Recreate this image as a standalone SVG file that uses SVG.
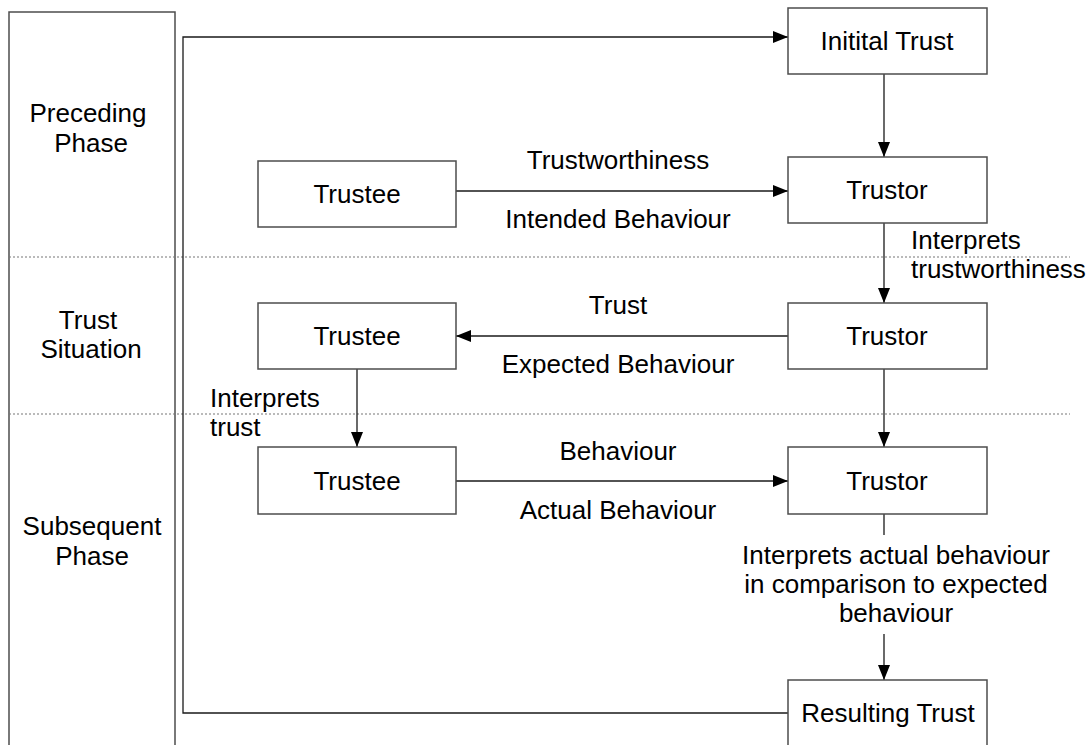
<svg xmlns="http://www.w3.org/2000/svg" width="1091" height="745" viewBox="0 0 1091 745">
  <style>
    .box { fill: #ffffff; stroke: #4d4d4d; stroke-width: 1.5; }
    .lbl { font-family: "Liberation Sans", Arial, sans-serif; font-size: 26px; fill: #000000; }
    .mid { text-anchor: middle; }
    .edge { fill: none; stroke: #1a1a1a; stroke-width: 1.3; }
    .sep { fill: none; stroke: #777777; stroke-width: 1.2; stroke-dasharray: 2 2; }
  </style>
  <defs>
    <marker id="arrow" viewBox="0 0 15 12" refX="15" refY="6" markerWidth="15" markerHeight="12" markerUnits="userSpaceOnUse" orient="auto">
      <path d="M0,0 L15,6 L0,12 Z" fill="#000000"/>
    </marker>
  </defs>
  <rect width="1091" height="745" fill="#ffffff"/>

  <!-- phase column -->
  <g id="phases">
    <path d="M9,745 V12 H175 V745" class="box"/>
    <text class="lbl mid" x="88" y="122">Preceding</text>
    <text class="lbl mid" x="91" y="152">Phase</text>
    <text class="lbl mid" x="88" y="329">Trust</text>
    <text class="lbl mid" x="91" y="358">Situation</text>
    <text class="lbl mid" x="92" y="535">Subsequent</text>
    <text class="lbl mid" x="92" y="565">Phase</text>
  </g>

  <!-- phase separators -->
  <g id="separators">
    <line class="sep" x1="9" y1="257" x2="1070" y2="257"/>
    <line class="sep" x1="9" y1="414" x2="1070" y2="414"/>
  </g>

  <!-- connectors -->
  <g id="connectors">
    <path class="edge" d="M788,713 H183 V37 H788" marker-end="url(#arrow)"/>
    <line class="edge" x1="884" y1="74" x2="884" y2="157" marker-end="url(#arrow)"/>
    <line class="edge" x1="456" y1="191" x2="788" y2="191" marker-end="url(#arrow)"/>
    <line class="edge" x1="884" y1="223" x2="884" y2="303" marker-end="url(#arrow)"/>
    <line class="edge" x1="788" y1="336" x2="456" y2="336" marker-end="url(#arrow)"/>
    <line class="edge" x1="357" y1="369" x2="357" y2="447" marker-end="url(#arrow)"/>
    <line class="edge" x1="884" y1="369" x2="884" y2="447" marker-end="url(#arrow)"/>
    <line class="edge" x1="456" y1="481" x2="788" y2="481" marker-end="url(#arrow)"/>
    <line class="edge" x1="884" y1="514" x2="884" y2="535"/>
    <line class="edge" x1="884" y1="634" x2="884" y2="680" marker-end="url(#arrow)"/>

    <text class="lbl mid" x="618" y="169">Trustworthiness</text>
    <text class="lbl mid" x="618" y="228">Intended Behaviour</text>
    <text class="lbl" x="911" y="249">Interprets</text>
    <text class="lbl" x="911" y="278">trustworthiness</text>
    <text class="lbl mid" x="618" y="314">Trust</text>
    <text class="lbl mid" x="618" y="373">Expected Behaviour</text>
    <text class="lbl" x="210" y="407">Interprets</text>
    <text class="lbl" x="210" y="436">trust</text>
    <text class="lbl mid" x="618" y="460">Behaviour</text>
    <text class="lbl mid" x="618" y="519">Actual Behaviour</text>
    <text class="lbl mid" x="896" y="564">Interprets actual behaviour</text>
    <text class="lbl mid" x="896" y="593">in comparison to expected</text>
    <text class="lbl mid" x="896" y="622">behaviour</text>
  </g>

  <g id="initial-trust">
    <rect class="box" x="788" y="8" width="199" height="66"/>
    <text class="lbl mid" x="887" y="50">Initital Trust</text>
  </g>
  <g id="trustee-1">
    <rect class="box" x="258" y="161" width="198" height="66"/>
    <text class="lbl mid" x="357" y="203">Trustee</text>
  </g>
  <g id="trustor-1">
    <rect class="box" x="788" y="157" width="199" height="66"/>
    <text class="lbl mid" x="887" y="199">Trustor</text>
  </g>
  <g id="trustee-2">
    <rect class="box" x="258" y="303" width="198" height="66"/>
    <text class="lbl mid" x="357" y="345">Trustee</text>
  </g>
  <g id="trustor-2">
    <rect class="box" x="788" y="303" width="199" height="66"/>
    <text class="lbl mid" x="887" y="345">Trustor</text>
  </g>
  <g id="trustee-3">
    <rect class="box" x="258" y="447" width="198" height="67"/>
    <text class="lbl mid" x="357" y="490">Trustee</text>
  </g>
  <g id="trustor-3">
    <rect class="box" x="788" y="447" width="199" height="67"/>
    <text class="lbl mid" x="887" y="490">Trustor</text>
  </g>
  <g id="resulting-trust">
    <path class="box" d="M788,745 V680 H987 V745"/>
    <text class="lbl mid" x="888" y="722">Resulting Trust</text>
  </g>
</svg>
